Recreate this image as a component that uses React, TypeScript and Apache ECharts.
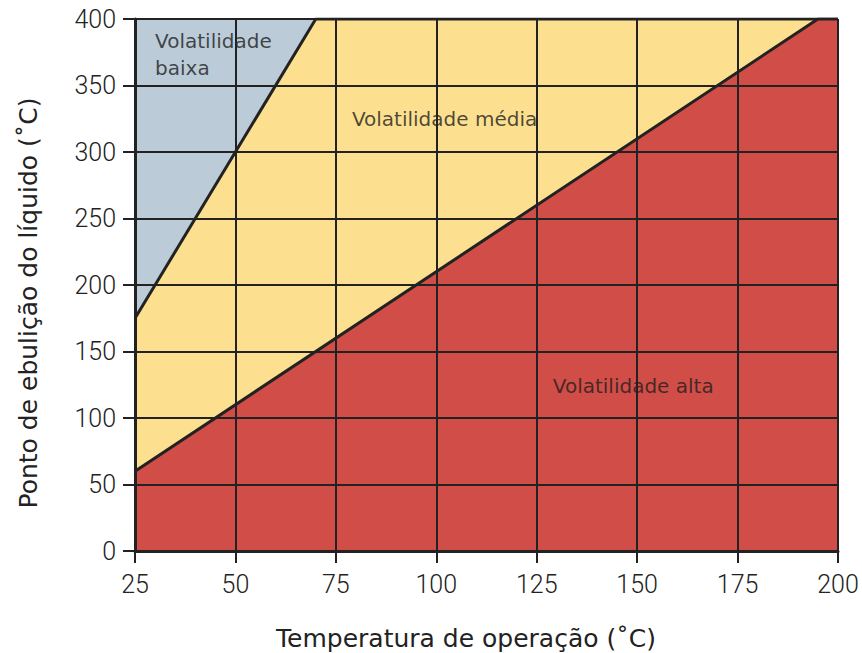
import React, { useEffect, useRef } from "react";
import * as echarts from "echarts";

const xTicks = [25, 50, 75, 100, 125, 150, 175, 200];
const yTicks = [0, 50, 100, 150, 200, 250, 300, 350, 400];
// boundary between low and medium volatility
const upperBoundary: [number, number][] = [[25, 175], [70, 400], [200, 400]];
// boundary between medium and high volatility
const lowerBoundary: [number, number][] = [[25, 60], [195, 400], [200, 400]];
const topEdge: [number, number][] = [[25, 400], [200, 400]];
const regionLabels = [
  { name: "Volatilidade\nbaixa", value: [30, 373] },
  { name: "Volatilidade média", value: [79, 325] },
  { name: "Volatilidade alta", value: [129, 124] },
];

const BLUE = "#bbcbd7";
const YELLOW = "#fde08f";
const RED = "#d14d47";
const INK = "#222222";

export default function App() {
  const ref = useRef<HTMLDivElement>(null);
  useEffect(() => {
    const chart = echarts.init(ref.current!, null, { renderer: "svg" });
    const axisCommon = {
      type: "value" as const,
      z: 5,
      axisLine: { show: true, lineStyle: { color: INK, width: 3 } },
      axisTick: { show: true, length: 12, inside: false, lineStyle: { color: INK, width: 2 } },
      splitLine: { show: true, lineStyle: { color: INK, width: 2 } },
      axisLabel: { color: "#222", fontSize: 25, fontFamily: "Roboto", fontWeight: 300 },
    };
    chart.setOption({
      animation: false,
      grid: { left: 135, right: 24, top: 19, bottom: 102 },
      xAxis: {
        ...axisCommon,
        min: 25,
        max: 200,
        interval: 25,
        data: xTicks,
        axisLabel: { ...axisCommon.axisLabel, margin: 21 },
      },
      yAxis: {
        ...axisCommon,
        min: 0,
        max: 400,
        interval: 50,
        axisLabel: { ...axisCommon.axisLabel, margin: 19 },
      },
      series: [
        {
          type: "line",
          data: topEdge,
          symbol: "none",
          lineStyle: { width: 0 },
          areaStyle: { color: BLUE, opacity: 1 },
          z: 1,
        },
        {
          type: "line",
          data: upperBoundary,
          symbol: "none",
          lineStyle: { color: INK, width: 3 },
          areaStyle: { color: YELLOW, opacity: 1 },
          z: 2,
        },
        {
          type: "line",
          data: lowerBoundary,
          symbol: "none",
          lineStyle: { color: INK, width: 3 },
          areaStyle: { color: RED, opacity: 1 },
          z: 3,
        },
        {
          type: "scatter",
          data: regionLabels,
          symbolSize: 0,
          z: 4,
          label: {
            show: true,
            position: "right",
            distance: 0,
            formatter: (p: any) => p.name,
            color: "#1e1e1e",
            fontSize: 20,
            lineHeight: 27,
            fontFamily: "DejaVu Sans",
            align: "left",
          },
        },
      ],
      graphic: [
        {
          type: "text",
          x: 466,
          y: 638,
          style: {
            text: "Temperatura de operação (˚C)",
            fill: "#222",
            font: "25px 'DejaVu Sans'",
            align: "center",
            verticalAlign: "middle",
          },
        },
        {
          type: "text",
          x: 28,
          y: 303,
          rotation: Math.PI / 2,
          style: {
            text: "Ponto de ebulição do líquido (˚C)",
            fill: "#222",
            font: "25px 'DejaVu Sans'",
            align: "center",
            verticalAlign: "middle",
          },
        },
      ],
    });
    return () => chart.dispose();
  }, []);
  return <div ref={ref} style={{ width: 862, height: 653, position: "absolute", left: 0, top: 0 }} />;
}
